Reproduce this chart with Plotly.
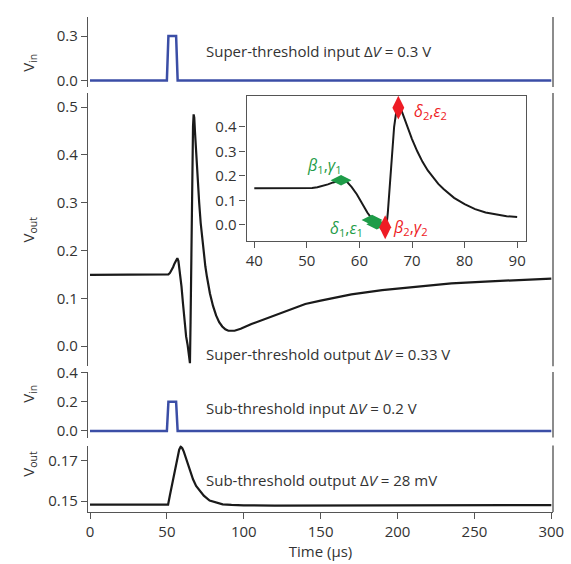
import plotly.graph_objects as go

# ---------------- data ----------------
t_in = [0, 50, 51, 56, 57, 300]
v_in_super = [0, 0, 0.3, 0.3, 0, 0]
v_in_sub = [0, 0, 0.2, 0.2, 0, 0]

t_super = [0, 40, 50, 51, 52, 53, 54, 55, 56, 56.8, 57.5, 58.5, 59.5, 60.5, 61.5,
           62.5, 63.5, 64.3, 65.0, 65.4, 65.8, 66.2, 66.6, 67.0, 67.4, 67.8, 68.3,
           69, 70, 71, 72, 73, 74, 75, 76, 78, 80, 82, 84, 86, 88, 90, 94, 98,
           105, 115, 127, 140, 150, 170, 190, 215, 235, 257, 280, 300]
v_super = [0.149, 0.149, 0.149, 0.150, 0.153, 0.158, 0.165, 0.173, 0.180, 0.184,
           0.178, 0.155, 0.125, 0.088, 0.050, 0.020, 0.002, -0.020, -0.036, 0.05,
           0.18, 0.30, 0.40, 0.46, 0.485, 0.478, 0.447, 0.405, 0.350, 0.300, 0.257,
           0.222, 0.192, 0.167, 0.146, 0.110, 0.084, 0.064, 0.050, 0.041, 0.035,
           0.032, 0.032, 0.036, 0.046, 0.058, 0.074, 0.088, 0.095, 0.108, 0.117,
           0.125, 0.131, 0.135, 0.139, 0.141]

t_sub = [0, 50.8, 52, 54, 56, 57, 58, 59, 60, 61, 62, 63, 64.8, 67, 69, 71.3, 74,
         77.8, 82, 86.3, 92, 100, 120, 150, 200, 250, 300]
v_sub = [0.1483, 0.1483, 0.153, 0.161, 0.169, 0.1725, 0.1755, 0.177, 0.1762,
         0.1745, 0.1722, 0.1698, 0.1655, 0.1608, 0.1575, 0.1551, 0.1527, 0.1503,
         0.1492, 0.1484, 0.1481, 0.1479, 0.1478, 0.1478, 0.1479, 0.148, 0.148]

# inset markers
green_t = [56.5, 62.4, 63.3]
green_v = [0.182, 0.020, 0.002]
red_t = [64.9, 67.4]
red_v = [-0.010, 0.478]

inset_lo, inset_hi = 40, 90

# ---------------- figure ----------------
BLACK = "#1a1a1a"
BLUE = "#3b4ea6"
GREEN = "#1e9c48"
RED = "#ee1c25"
AX = "#555555"
TXT = "#333333"
FONT = "Open Sans"

fig = go.Figure()

fig.add_trace(go.Scatter(x=t_in, y=v_in_super, mode="lines",
                         line=dict(color=BLUE, width=2.5), xaxis="x", yaxis="y"))
fig.add_trace(go.Scatter(x=t_super, y=v_super, mode="lines",
                         line=dict(color=BLACK, width=2.2), xaxis="x", yaxis="y2"))
fig.add_trace(go.Scatter(x=t_in, y=v_in_sub, mode="lines",
                         line=dict(color=BLUE, width=2.5), xaxis="x", yaxis="y3"))
fig.add_trace(go.Scatter(x=t_sub, y=v_sub, mode="lines",
                         line=dict(color=BLACK, width=2.2), xaxis="x", yaxis="y4"))

ti = [t for t in t_super if inset_lo <= t <= inset_hi]
vi = [v for t, v in zip(t_super, v_super) if inset_lo <= t <= inset_hi]
fig.add_trace(go.Scatter(x=ti, y=vi, mode="lines",
                         line=dict(color=BLACK, width=2), xaxis="x2", yaxis="y5"))
fig.add_trace(go.Scatter(x=green_t, y=green_v, mode="markers",
                         marker=dict(symbol="diamond-wide", size=15, color=GREEN),
                         xaxis="x2", yaxis="y5"))
fig.add_trace(go.Scatter(x=red_t, y=red_v, mode="markers",
                         marker=dict(symbol="diamond-tall", size=17, color=RED),
                         xaxis="x2", yaxis="y5"))

yax_common = dict(showline=True, linecolor=AX, linewidth=1.3, ticks="outside",
                  ticklen=6, tickcolor=AX, tickwidth=1.2, showgrid=False,
                  zeroline=False, anchor="x",
                  tickfont=dict(family=FONT, size=15, color=TXT))

doms = [[0.8588, 1.0], [0.2945, 0.8465], [0.1505, 0.2826], [0.0, 0.1341]]

fig.update_layout(
    width=571, height=564,
    margin=dict(l=88, r=16, t=7, b=52),
    paper_bgcolor="white", plot_bgcolor="white",
    showlegend=False,
    font=dict(family=FONT, color=TXT),
    xaxis=dict(range=[-1.3, 301.1], domain=[0, 1], anchor="y4",
               showline=True, linecolor=AX, linewidth=1.3, ticks="outside",
               ticklen=6, tickcolor=AX, tickwidth=1.2, showgrid=False,
               zeroline=False, tickvals=[0, 50, 100, 150, 200, 250, 300],
               tickfont=dict(family=FONT, size=15, color=TXT),
               title=dict(text="Time (µs)", font=dict(family=FONT, size=15, color=TXT),
                          standoff=5)),
    yaxis=dict(domain=doms[0], range=[-0.044, 0.429], tickvals=[0, 0.3],
               tickformat=".1f", **yax_common),
    yaxis2=dict(domain=doms[1], range=[-0.0423, 0.5298],
                tickvals=[0, 0.1, 0.2, 0.3, 0.4, 0.5], tickformat=".1f", **yax_common),
    yaxis3=dict(domain=doms[2], range=[-0.045, 0.4047], tickvals=[0, 0.2, 0.4],
                tickformat=".1f", **yax_common),
    yaxis4=dict(domain=doms[3], range=[0.1446, 0.1775], tickvals=[0.15, 0.17],
                tickformat=".2f", **yax_common),
    xaxis2=dict(domain=[0.3411, 0.9428], anchor="y5", range=[38.54, 91.76],
                tickvals=[40, 50, 60, 70, 80, 90], showline=True, mirror=True,
                linecolor=AX, linewidth=1.3, ticks="outside", ticklen=6,
                tickcolor=AX, showgrid=False, zeroline=False,
                tickfont=dict(family=FONT, size=15, color=TXT)),
    yaxis5=dict(domain=[0.5471, 0.8410], anchor="x2", range=[-0.0668, 0.5268],
                tickvals=[0, 0.1, 0.2, 0.3, 0.4], tickformat=".1f", showline=True,
                mirror=True, linecolor=AX, linewidth=1.3, ticks="outside",
                ticklen=6, tickcolor=AX, showgrid=False, zeroline=False,
                tickfont=dict(family=FONT, size=15, color=TXT)),
)

# right-hand border lines of each panel
for d in doms:
    fig.add_shape(type="line", xref="paper", yref="paper", x0=1.0, x1=1.0,
                  y0=d[0], y1=d[1], line=dict(color="#8c8c8c", width=2))

# y-axis titles
ytitles = ["V<sub>in</sub>", "V<sub>out</sub>", "V<sub>in</sub>", "V<sub>out</sub>"]
for d, txt in zip(doms, ytitles):
    fig.add_annotation(text=txt, xref="paper", yref="paper", x=-0.155,
                       y=(d[0] + d[1]) / 2, textangle=-90, showarrow=False,
                       font=dict(family=FONT, size=15, color=TXT))

# panel descriptions
desc = [("Super-threshold input Δ<i>V</i> = 0.3 V", "y", 0.20),
        ("Super-threshold output Δ<i>V</i> = 0.33 V", "y2", -0.017),
        ("Sub-threshold input Δ<i>V</i> = 0.2 V", "y3", 0.16),
        ("Sub-threshold output Δ<i>V</i> = 28 mV", "y4", 0.1607)]
for txt, yr, yv in desc:
    fig.add_annotation(text=txt, xref="x", yref=yr, x=74.1, y=yv, xanchor="left",
                       yanchor="middle", showarrow=False,
                       font=dict(family=FONT, size=15, color=TXT))

# inset labels
labels = [("<i>β</i><sub>1</sub>,<i>γ</i><sub>1</sub>", 53.3, 0.243, GREEN),
          ("<i>δ</i><sub>1</sub>,<i>ε</i><sub>1</sub>", 57.5, -0.015, GREEN),
          ("<i>β</i><sub>2</sub>,<i>γ</i><sub>2</sub>", 69.7, -0.011, RED),
          ("<i>δ</i><sub>2</sub>,<i>ε</i><sub>2</sub>", 73.6, 0.463, RED)]
for txt, xv, yv, col in labels:
    fig.add_annotation(text=txt, xref="x2", yref="y5", x=xv, y=yv, showarrow=False,
                       xanchor="center", yanchor="middle",
                       font=dict(family=FONT, size=16, color=col))

fig.write_html("out.html")
